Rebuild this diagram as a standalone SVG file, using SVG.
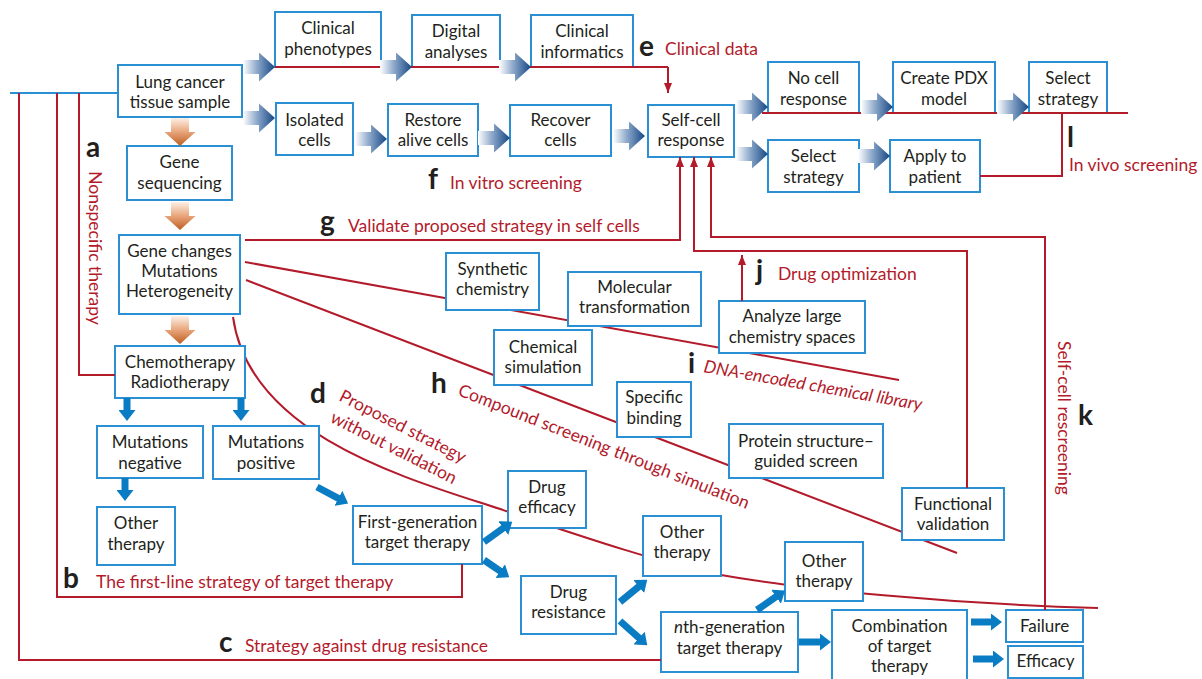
<svg xmlns="http://www.w3.org/2000/svg" width="1202" height="679" viewBox="0 0 1202 679">
<style>
.n rect{fill:#fff;stroke:#2b8fd3;stroke-width:2}
.n text{font-family:Lato,"Liberation Sans",sans-serif;font-size:17px;fill:#231f20;text-anchor:middle}
.r{fill:none;stroke:#b31b2b;stroke-width:2}
.ra{fill:none;stroke:#b31b2b;stroke-width:2;marker-end:url(#rh)}
.lab{font-family:Lato,"Liberation Sans",sans-serif;font-size:17.5px;fill:#b31b2b}
.big{font-family:Lato,"Liberation Sans",sans-serif;font-size:28px;font-weight:bold;fill:#231f20}
.sb{stroke:#0a7cc3;stroke-width:7;fill:none;marker-end:url(#sbh)}
</style>
<defs>
<linearGradient id="gb" x1="0" y1="0" x2="1" y2="0">
<stop offset="0" stop-color="#ffffff"/>
<stop offset="0.45" stop-color="#8aa6c9"/>
<stop offset="1" stop-color="#154783"/>
</linearGradient>
<linearGradient id="go" x1="0" y1="0" x2="0" y2="1">
<stop offset="0" stop-color="#fdf0e6"/>
<stop offset="0.5" stop-color="#e8a57a"/>
<stop offset="1" stop-color="#bd5d22"/>
</linearGradient>
<path id="barrow" d="M0,-7 H16 V-14.5 L32,0 L16,14.5 V7 H0 Z" fill="url(#gb)"/>
<path id="oarrow" d="M-9,0 H9 V14 H15.5 L0,28 L-15.5,14 H-9 Z" fill="url(#go)"/>
<marker id="rh" viewBox="0 0 10 8" refX="10" refY="4" markerWidth="10" markerHeight="8" markerUnits="userSpaceOnUse" orient="auto">
<path d="M0,0 L10,4 L0,8 Z" fill="#b31b2b"/>
</marker>
<marker id="sbh" viewBox="0 0 11 17" refX="1" refY="8.5" markerWidth="11" markerHeight="17" markerUnits="userSpaceOnUse" orient="auto">
<path d="M0,0 L11,8.5 L0,17 Z" fill="#0a7cc3"/>
</marker>
</defs>
<rect width="1202" height="679" fill="#fff"/>

<g id="connectors-under">
<path class="r" d="M245,262 L899,380"/>
<path class="r" d="M246,280 L957,553"/>
<path class="r" d="M233,317 C250,440 420,482 509,512 C560,529 661,564 721,575 C800,589 950,604 1098,608"/>
</g>

<g id="nodes">
<g id="n-lung" class="n"><rect x="118" y="65" width="124" height="52"/><text x="180" y="88">Lung cancer</text><text x="180" y="108">tissue sample</text></g>
<g id="n-phen" class="n"><rect x="275" y="12" width="106" height="55"/><text x="328" y="34">Clinical</text><text x="328" y="55">phenotypes</text></g>
<g id="n-digital" class="n"><rect x="412" y="15" width="88" height="52"/><text x="456" y="37">Digital</text><text x="456" y="58">analyses</text></g>
<g id="n-informatics" class="n"><rect x="531" y="15" width="102" height="52"/><text x="582" y="37">Clinical</text><text x="582" y="58">informatics</text></g>
<g id="n-isolated" class="n"><rect x="276" y="103" width="77" height="52"/><text x="314.5" y="126">Isolated</text><text x="314.5" y="146">cells</text></g>
<g id="n-restore" class="n"><rect x="388" y="104" width="90" height="52"/><text x="433" y="126">Restore</text><text x="433" y="146">alive cells</text></g>
<g id="n-recover" class="n"><rect x="510" y="105" width="101" height="51"/><text x="560.5" y="126">Recover</text><text x="560.5" y="146">cells</text></g>
<g id="n-selfcell" class="n"><rect x="648" y="105" width="86" height="52"/><text x="691" y="126">Self-cell</text><text x="691" y="146">response</text></g>
<g id="n-nocell" class="n"><rect x="768" y="62" width="91" height="51"/><text x="813.5" y="84">No cell</text><text x="813.5" y="105">response</text></g>
<g id="n-pdx" class="n"><rect x="893" y="62" width="102" height="51"/><text x="944" y="84">Create PDX</text><text x="944" y="105">model</text></g>
<g id="n-select1" class="n"><rect x="1029" y="62" width="78" height="51"/><text x="1068" y="84">Select</text><text x="1068" y="105">strategy</text></g>
<g id="n-select2" class="n"><rect x="768" y="140" width="91" height="52"/><text x="813.5" y="162">Select</text><text x="813.5" y="183">strategy</text></g>
<g id="n-apply" class="n"><rect x="890" y="140" width="90" height="52"/><text x="935" y="162">Apply to</text><text x="935" y="183">patient</text></g>
<g id="n-geneseq" class="n"><rect x="127" y="146" width="105" height="54"/><text x="179.5" y="168">Gene</text><text x="179.5" y="189">sequencing</text></g>
<g id="n-genechanges" class="n"><rect x="119" y="235" width="121" height="79"/><text x="179.5" y="257">Gene changes</text><text x="179.5" y="277">Mutations</text><text x="179.5" y="297">Heterogeneity</text></g>
<g id="n-chemo" class="n"><rect x="115" y="346" width="130" height="52"/><text x="180" y="368">Chemotherapy</text><text x="180" y="388">Radiotherapy</text></g>
<g id="n-mutneg" class="n"><rect x="97" y="426" width="106" height="52"/><text x="150" y="448">Mutations</text><text x="150" y="469">negative</text></g>
<g id="n-mutpos" class="n"><rect x="213" y="426" width="106" height="53"/><text x="266" y="448">Mutations</text><text x="266" y="469">positive</text></g>
<g id="n-other1" class="n"><rect x="97" y="507" width="78" height="58"/><text x="136" y="529">Other</text><text x="136" y="550">therapy</text></g>
<g id="n-firstgen" class="n"><rect x="353" y="506" width="129" height="58"/><text x="417.5" y="528">First-generation</text><text x="417.5" y="548">target therapy</text></g>
<g id="n-drugeff" class="n"><rect x="508" y="471" width="78" height="57"/><text x="547" y="493">Drug</text><text x="547" y="513">efficacy</text></g>
<g id="n-drugres" class="n"><rect x="521" y="576" width="95" height="58"/><text x="568.5" y="598">Drug</text><text x="568.5" y="618">resistance</text></g>
<g id="n-other2" class="n"><rect x="643" y="516" width="78" height="60"/><text x="682" y="538">Other</text><text x="682" y="558">therapy</text></g>
<g id="n-nthgen" class="n"><rect x="661" y="612" width="137" height="60"/><text x="729.5" y="633"><tspan font-style="italic">n</tspan>th-generation</text><text x="729.5" y="654">target therapy</text></g>
<g id="n-other3" class="n"><rect x="785" y="542" width="78" height="59"/><text x="824" y="567">Other</text><text x="824" y="587">therapy</text></g>
<g id="n-combo" class="n"><rect x="832" y="610" width="135" height="80"/><text x="899.5" y="632">Combination</text><text x="899.5" y="652">of target</text><text x="899.5" y="672">therapy</text></g>
<g id="n-failure" class="n"><rect x="1006" y="610" width="77" height="32"/><text x="1044.5" y="632">Failure</text></g>
<g id="n-efficacy" class="n"><rect x="1008" y="646" width="75" height="32"/><text x="1045.5" y="667">Efficacy</text></g>
<g id="n-synthetic" class="n"><rect x="446" y="253" width="93" height="57"/><text x="492.5" y="275">Synthetic</text><text x="492.5" y="295">chemistry</text></g>
<g id="n-molecular" class="n"><rect x="568" y="272" width="133" height="54"/><text x="634.5" y="293">Molecular</text><text x="634.5" y="313">transformation</text></g>
<g id="n-analyze" class="n"><rect x="719" y="301" width="146" height="52"/><text x="792" y="322">Analyze large</text><text x="792" y="343">chemistry spaces</text></g>
<g id="n-chemsim" class="n"><rect x="494" y="330" width="98" height="55"/><text x="543" y="353">Chemical</text><text x="543" y="373">simulation</text></g>
<g id="n-binding" class="n"><rect x="617" y="382" width="74" height="55"/><text x="654" y="403">Specific</text><text x="654" y="424">binding</text></g>
<g id="n-protein" class="n"><rect x="729" y="424" width="154" height="54"/><text x="806" y="447">Protein structure–</text><text x="806" y="467">guided screen</text></g>
<g id="n-functional" class="n"><rect x="902" y="488" width="102" height="52"/><text x="953" y="510">Functional</text><text x="953" y="530">validation</text></g>
</g>

<g id="connectors">
<line x1="10" y1="93" x2="117" y2="93" stroke="#2b8fd3" stroke-width="2"/>
<path class="r" d="M79,93 V375 H115"/>
<path class="r" d="M57,93 V597 H462 V564"/>
<path class="r" d="M19,93 V660 H661"/>
<path class="r" d="M275,67 H668"/>
<path class="ra" d="M668,67 V93"/>
<path class="r" d="M762,113 H1128"/>
<path class="r" d="M1062,113 V176 H980"/>
<path class="ra" d="M245,240 H680 V157"/>
<path class="ra" d="M967,488 V251 H694 V157"/>
<path class="ra" d="M1045,610 V237 H711 V157"/>
<path class="ra" d="M742,301 V255"/>
<use href="#barrow" x="243" y="67"/>
<use href="#barrow" x="243" y="118"/>
<use href="#barrow" x="380" y="67"/>
<use href="#barrow" x="499" y="67"/>
<use href="#barrow" x="355" y="139"/>
<use href="#barrow" x="478" y="138"/>
<use href="#barrow" x="613" y="136"/>
<use href="#barrow" x="736" y="107"/>
<use href="#barrow" x="736" y="154"/>
<use href="#barrow" x="861" y="107"/>
<use href="#barrow" x="997" y="107"/>
<use href="#barrow" x="858" y="156"/>
<use href="#oarrow" x="180" y="118"/>
<use href="#oarrow" x="180" y="202"/>
<use href="#oarrow" x="180" y="316"/>
<line class="sb" x1="127" y1="398" x2="127" y2="411"/>
<line class="sb" x1="241" y1="398" x2="241" y2="411"/>
<line class="sb" x1="125" y1="478" x2="125" y2="491"/>
<line class="sb" x1="317" y1="487" x2="339.3" y2="498.8"/>
<line class="sb" x1="484" y1="542" x2="504.1" y2="527.5"/>
<line class="sb" x1="484" y1="560" x2="501" y2="571.7"/>
<line class="sb" x1="620" y1="602" x2="639.5" y2="586"/>
<line class="sb" x1="620" y1="621" x2="639.8" y2="638.7"/>
<line class="sb" x1="757" y1="610" x2="776.9" y2="596.2"/>
<line class="sb" x1="799" y1="642" x2="821" y2="642"/>
<line class="sb" x1="971" y1="622" x2="992" y2="622"/>
<line class="sb" x1="973" y1="659" x2="994" y2="659"/>
</g>

<g id="labels">
<text class="big" x="86" y="157">a</text>
<text class="lab" transform="translate(89,248) rotate(90)" text-anchor="middle">Nonspecific therapy</text>
<text class="big" x="63" y="588">b</text>
<text class="lab" x="96" y="588">The first-line strategy of target therapy</text>
<text class="big" x="219" y="652">c</text>
<text class="lab" x="245" y="652">Strategy against drug resistance</text>
<text class="big" x="310" y="403">d</text>
<g transform="translate(338,400) rotate(27)"><text class="lab" x="0" y="0">Proposed strategy</text><text class="lab" x="2" y="23">without validation</text></g>
<text class="big" x="639" y="56">e</text>
<text class="lab" x="665" y="55">Clinical data</text>
<text class="big" x="428" y="189">f</text>
<text class="lab" x="450" y="189">In vitro screening</text>
<text class="big" x="320" y="231">g</text>
<text class="lab" x="348" y="232">Validate proposed strategy in self cells</text>
<text class="big" x="431" y="393">h</text>
<text class="lab" transform="translate(457,395) rotate(21.5)">Compound screening through simulation</text>
<text class="big" x="688" y="373">i</text>
<text class="lab" font-style="italic" transform="translate(703,372) rotate(10)">DNA-encoded chemical library</text>
<text class="big" x="756" y="280">j</text>
<text class="lab" x="778" y="280">Drug optimization</text>
<text class="big" x="1078" y="425">k</text>
<text class="lab" transform="translate(1058,418) rotate(90)" text-anchor="middle">Self-cell rescreening</text>
<text class="big" x="1067" y="147">l</text>
<text class="lab" x="1069" y="171">In vivo screening</text>
</g>
</svg>
